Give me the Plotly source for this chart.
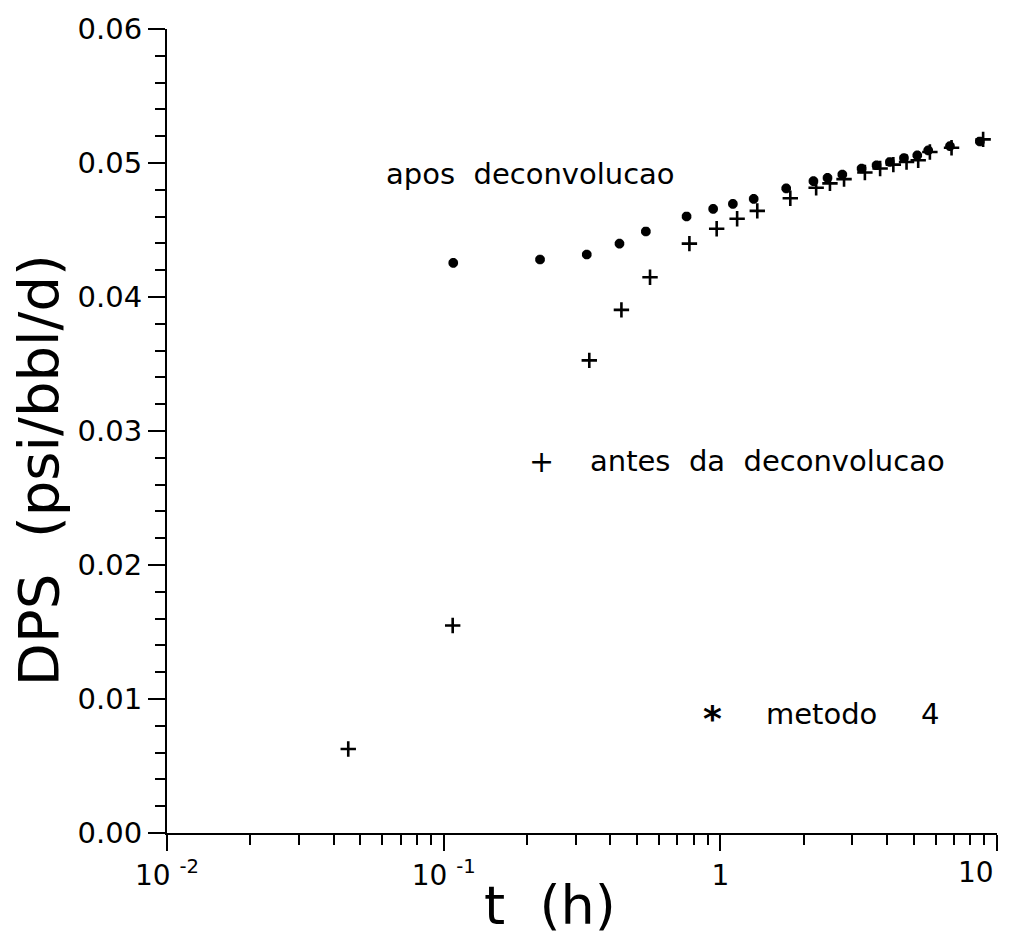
import plotly.graph_objects as go

# ---- data ----
t_antes = [0.0452, 0.1078, 0.336, 0.439, 0.557, 0.773, 0.970, 1.15, 1.36, 1.79, 2.22,
           2.49, 2.80, 3.33, 3.78, 4.22, 4.71, 5.19, 5.72, 6.85, 8.91]
dps_antes = [0.00627, 0.01548, 0.03527, 0.03904, 0.04147, 0.04398, 0.04509, 0.04584,
             0.04643, 0.04737, 0.04815, 0.04848, 0.04880, 0.04929, 0.04959, 0.04988,
             0.05008, 0.05020, 0.05082, 0.05114, 0.05176]

t_metodo4 = [0.1083, 0.223, 0.329, 0.432, 0.538, 0.755, 0.942, 1.11, 1.32, 1.73, 2.17,
             2.44, 2.76, 3.24, 3.67, 4.10, 4.61, 5.15, 5.64, 6.76, 8.67]
dps_metodo4 = [0.04255, 0.04280, 0.04317, 0.04398, 0.04489, 0.04601, 0.04658, 0.04695,
               0.04732, 0.04811, 0.04865, 0.04889, 0.04914, 0.04959, 0.04983, 0.05008,
               0.05037, 0.05057, 0.05094, 0.05126, 0.05161]

x_tickvals = [0.01, 0.1, 1, 10]
x_ticktext = ["10 <sup>-2</sup>", "10 <sup>-1</sup>", "1", " "]
x_last_label = "10"
y_tickvals = [0.00, 0.01, 0.02, 0.03, 0.04, 0.05, 0.06]

x_title = "t  (h)"
y_title = "DPS  (psi/bbl/d)"
label_apos = "apos  deconvolucao"
label_antes = "antes  da  deconvolucao"
label_metodo = "metodo"
label_metodo_num = "4"

FONT = "DejaVu Sans"
W, H = 1013, 944
ML, MR, MT, MB = 167, 16, 22, 111
PW, PH = W - ML - MR, H - MT - MB


def px(xp):
    return (xp - ML) / PW


def py(yp):
    return (H - MB - yp) / PH


minor_x = [m * 10.0 ** e for e in (-2, -1, 0) for m in range(2, 10)]

fig = go.Figure()
fig.add_trace(go.Scatter(
    x=t_antes, y=dps_antes, mode="markers", name="antes da deconvolucao",
    marker=dict(symbol="cross-thin", size=11, line=dict(color="black", width=2.6)),
))
fig.add_trace(go.Scatter(
    x=t_metodo4, y=dps_metodo4, mode="markers", name="metodo 4",
    marker=dict(symbol="asterisk", size=8, color="black", line=dict(color="black", width=3.4)),
))

fig.update_layout(
    width=W, height=H,
    margin=dict(l=ML, r=MR, t=MT, b=MB),
    paper_bgcolor="white", plot_bgcolor="white",
    showlegend=False,
    font=dict(family=FONT, color="black"),
    xaxis=dict(
        type="log", range=[-2, 1],
        tickmode="array", tickvals=x_tickvals, ticktext=x_ticktext,
        ticks="outside", ticklen=16, tickwidth=2, tickcolor="black",
        minor=dict(tickmode="array", tickvals=minor_x, ticks="outside",
                   ticklen=10, tickwidth=2, tickcolor="black", showgrid=False),
        showline=True, linecolor="black", linewidth=2,
        showgrid=False, zeroline=False,
        tickfont=dict(family=FONT, size=28, color="black"),
    ),
    yaxis=dict(
        range=[0, 0.06],
        tickmode="array", tickvals=y_tickvals, tickformat=".2f",
        ticks="outside", ticklen=17, tickwidth=2, tickcolor="black",
        minor=dict(dtick=0.002, ticks="outside", ticklen=10, tickwidth=2,
                   tickcolor="black", showgrid=False),
        showline=True, linecolor="black", linewidth=2,
        showgrid=False, zeroline=False,
        tickfont=dict(family=FONT, size=29, color="black"),
    ),
)

ann_font = dict(family=FONT, size=29, color="black")
annotations = [
    dict(x=px(530), y=py(168), text=label_apos, font=ann_font),
    dict(x=px(541), y=py(458), text="+", font=dict(family=FONT, size=30, color="black")),
    dict(x=px(767), y=py(458), text=label_antes, font=ann_font),
    dict(x=px(712), y=py(718), text="<b>*</b>", font=dict(family=FONT, size=36, color="black")),
    dict(x=px(821), y=py(713), text=label_metodo, font=ann_font),
    dict(x=px(930), y=py(713), text=label_metodo_num, font=ann_font),
    dict(x=px(976), y=py(873), text=x_last_label, font=dict(family=FONT, size=28, color="black")),
    dict(x=px(38), y=py(467), text=y_title, textangle=-90,
         font=dict(family=FONT, size=56, color="black")),
    dict(x=px(550), y=py(906), text=x_title,
         font=dict(family=FONT, size=54, color="black")),
]
for a in annotations:
    a.update(xref="paper", yref="paper", showarrow=False,
             xanchor="center", yanchor="middle")
fig.update_layout(annotations=annotations)

fig.write_html("out.html")
